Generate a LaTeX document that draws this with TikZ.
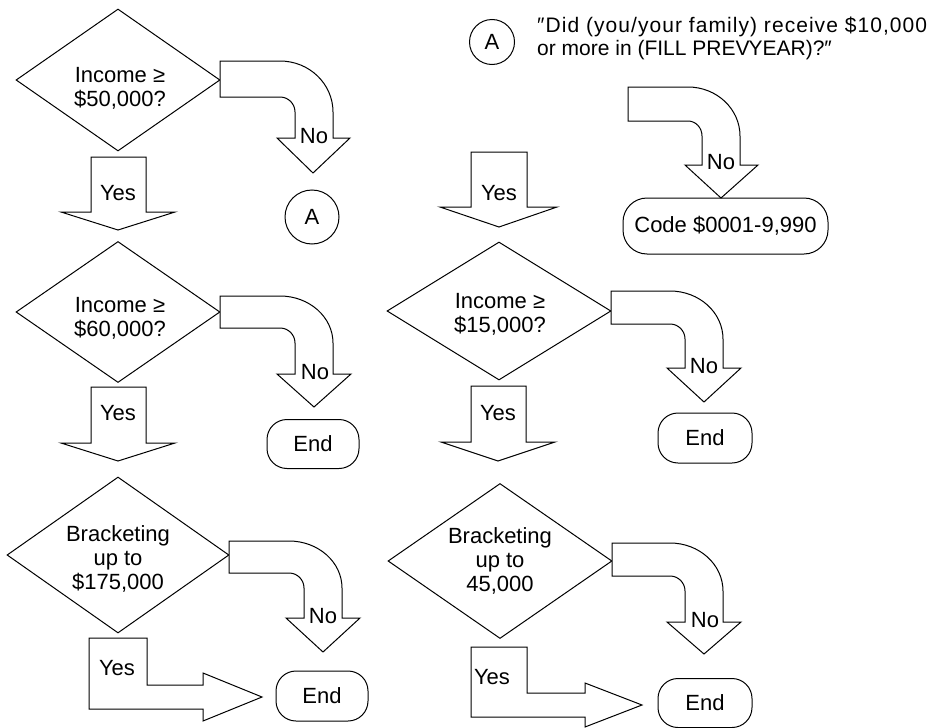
\documentclass[tikz,border=0pt]{standalone}
\usepackage{fontspec}
\setmainfont{Liberation Sans}
\usetikzlibrary{shapes.geometric}
\tikzset{
  ln/.style={line width=1pt, line join=miter},
  blk/.style={draw, ln, fill=white},
  dia/.style={shape=diamond, draw, ln, inner sep=0pt},
  lbl/.style={font=\fontsize{22}{24}\selectfont, align=center, inner sep=0pt},
  term/.style={draw, ln, rounded corners=20pt, inner sep=0pt, font=\fontsize{22}{24}\selectfont},
  conn/.style={draw, circle, ln, inner sep=0pt, font=\fontsize{22}{24}\selectfont},
}
\begin{document}
\begin{tikzpicture}[x=1pt,y=-1pt]
\useasboundingbox (0,0) rectangle (935,728);

% ---------- decision diamonds ----------
\node[dia, minimum width=204pt, minimum height=142pt] (d1) at (118,80) {};
\node[dia, minimum width=204pt, minimum height=141pt] (d2) at (118,312) {};
\node[dia, minimum width=222pt, minimum height=156pt] (d3) at (118,555) {};
\node[dia, minimum width=224pt, minimum height=138pt] (d4) at (499,311) {};
\node[dia, minimum width=224pt, minimum height=155pt] (d5) at (500,561) {};

\node[lbl] (t1) at (120,88) {Income ≥\\\$50,000?};
\node[lbl] (t2) at (120,318) {Income ≥\\\$60,000?};
\node[lbl] (t3) at (118,559) {Bracketing\\up to\\\$175,000};
\node[lbl] (t4) at (500,314) {Income ≥\\\$15,000?};
\node[lbl] (t5) at (500,561) {Bracketing\\up to\\45,000};

% ---------- connectors / terminals ----------
\node[conn, minimum size=45pt] (a1) at (492,42) {A};
\node[anchor=west, inner sep=0pt, font=\fontsize{21}{23}\selectfont] (q) at (537,39) {\begin{tabular}{@{}l@{}}{\addfontfeature{LetterSpace=5}″Did (you/your family) receive \$10,000}\\or more in (FILL PREV\kern-1pt YEAR)?″\end{tabular}};
\node[conn, minimum size=54pt] (a2) at (312,217) {A};
\node[term, minimum width=205pt, minimum height=56pt, rounded corners=24pt] (code) at (725.5,226) {Code \$0001-9,990};
\node[term, minimum width=92pt, minimum height=49pt] (e1) at (313,444) {End};
\node[term, minimum width=94pt, minimum height=50pt] (e2) at (705,438) {End};
\node[term, minimum width=92pt, minimum height=50pt] (e3) at (322,696) {End};
\node[term, minimum width=94pt, minimum height=49pt] (e4) at (705,703) {End};

% ---------- Yes arrows (straight) ----------
\draw[blk] (91,157) -- (146,157) -- (146,212) -- (175,212) -- (118,230) -- (61,212) -- (91,212) -- cycle;
\node[lbl] (y1) at (118,193) {Yes};
\draw[blk] (91,387) -- (146,387) -- (146,443) -- (175,443) -- (118,461) -- (61,443) -- (91,443) -- cycle;
\node[lbl] (y2) at (118,413) {Yes};
\draw[blk] (471,152) -- (527,152) -- (527,207) -- (557,207) -- (499,227) -- (440,207) -- (471,207) -- cycle;
\node[lbl] (y3) at (499,193) {Yes};
\draw[blk] (471,386) -- (526,386) -- (526,442) -- (555,442) -- (498,461) -- (441,442) -- (471,442) -- cycle;
\node[lbl] (y4) at (498,413) {Yes};

% ---------- Yes arrows (L-shaped) ----------
\draw[blk] (89,638) -- (147,638) -- (147,685) -- (203,685) -- (203,673) -- (262,697) -- (203,721) -- (203,709) -- (89,709) -- cycle;
\node[lbl] (y5) at (117,668) {Yes};
\draw[blk] (471,647) -- (527,647) -- (527,693) -- (585,693) -- (585,683) -- (642,705) -- (585,727) -- (585,717) -- (471,717) -- cycle;
\node[lbl] (y6) at (492,677) {Yes};

% ---------- No arrows (curved) ----------
\draw[blk] (220,61) -- (280,61) arc[start angle=-90, end angle=0, x radius=53, y radius=51]
  -- (333,138) -- (350,138) -- (313,173) -- (277,138) -- (295,138) -- (295,112)
  arc[start angle=0, end angle=-90, x radius=15, y radius=15] -- (220,97) -- cycle;
\node[lbl] (n1) at (314,136) {No};

\draw[blk] (220,296) -- (280,296) arc[start angle=-90, end angle=0, x radius=53, y radius=47]
  -- (333,374) -- (351,374) -- (314,407) -- (277,374) -- (295,374) -- (295,343)
  arc[start angle=0, end angle=-90, x radius=15, y radius=15] -- (220,328) -- cycle;
\node[lbl] (n2) at (315,372) {No};

\draw[blk] (229,541) -- (289,541) arc[start angle=-90, end angle=0, x radius=53, y radius=47]
  -- (342,618) -- (360,618) -- (323,652) -- (286,618) -- (304,618) -- (304,588)
  arc[start angle=0, end angle=-90, x radius=15, y radius=15] -- (229,573) -- cycle;
\node[lbl] (n3) at (323,616) {No};

\draw[blk] (628,87) -- (688,87) arc[start angle=-90, end angle=0, x radius=52, y radius=49]
  -- (740,165) -- (758,165) -- (721,198) -- (685,165) -- (702,165) -- (702,136)
  arc[start angle=0, end angle=-90, x radius=14, y radius=15] -- (628,121) -- cycle;
\node[lbl] (n4) at (721,162) {No};

\draw[blk] (611,291) -- (670,291) arc[start angle=-90, end angle=0, x radius=53, y radius=48]
  -- (723,368) -- (741,368) -- (704,402) -- (667,368) -- (685,368) -- (685,339)
  arc[start angle=0, end angle=-90, x radius=15, y radius=15] -- (611,324) -- cycle;
\node[lbl] (n5) at (704,366) {No};

\draw[blk] (612,543) -- (670,543) arc[start angle=-90, end angle=0, x radius=53, y radius=48]
  -- (723,622) -- (741,622) -- (704,654) -- (667,622) -- (685,622) -- (685,591)
  arc[start angle=0, end angle=-90, x radius=15, y radius=15] -- (612,576) -- cycle;
\node[lbl] (n6) at (705,620) {No};
\end{tikzpicture}
\end{document}
